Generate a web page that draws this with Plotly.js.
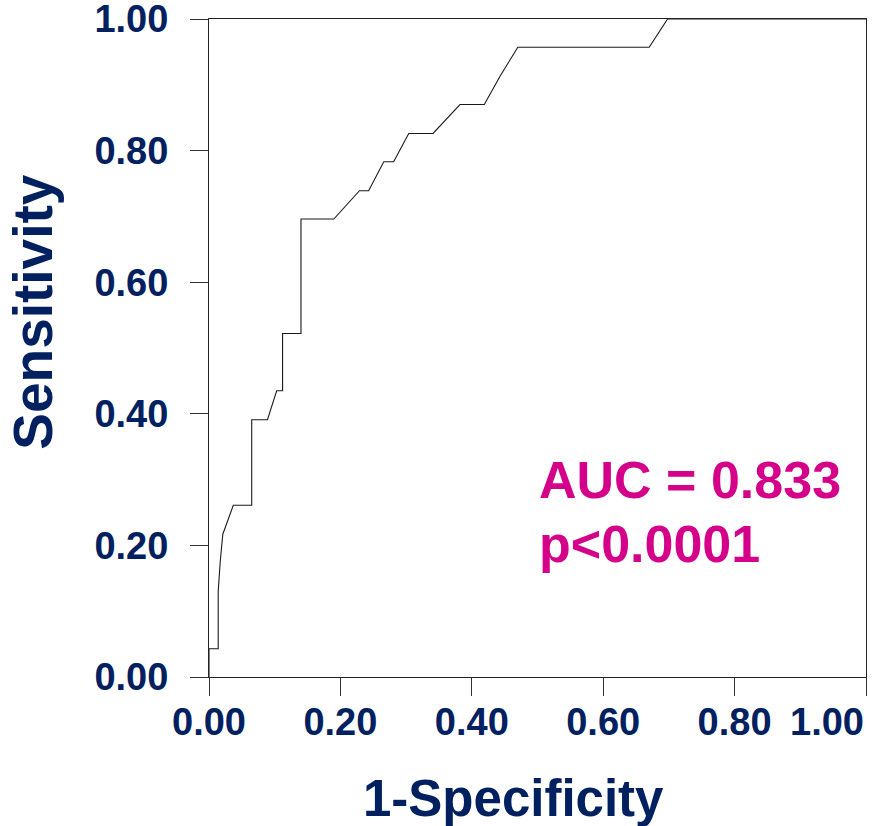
<!DOCTYPE html>
<html>
<head>
<meta charset="utf-8">
<script src="https://cdn.plot.ly/plotly-3.0.1.min.js"></script>
<style>
  html, body { margin: 0; padding: 0; background: #ffffff; }
  #chart { width: 883px; height: 826px; }
</style>
</head>
<body>
<div id="chart"></div>
<script>
// ROC curve: false positive rate (1 - specificity) against true positive rate
const fpr = [0, 0, 0.014, 0.014, 0.017, 0.021, 0.037, 0.065, 0.065, 0.089, 0.103, 0.112, 0.112,
             0.140, 0.140, 0.190, 0.229, 0.243, 0.266, 0.281, 0.304, 0.341, 0.382, 0.419,
             0.443, 0.470, 0.670, 0.698, 1.0];
const tpr = [0, 0.043, 0.043, 0.130, 0.174, 0.217, 0.261, 0.261, 0.391, 0.391, 0.435, 0.435, 0.522,
             0.522, 0.696, 0.696, 0.739, 0.739, 0.783, 0.783, 0.826, 0.826, 0.870, 0.870,
             0.913, 0.957, 0.957, 1.0, 1.0];

const tickVals = [0, 0.2, 0.4, 0.6, 0.8, 1.0];
const tickText = ['0.00', '0.20', '0.40', '0.60', '0.80', '1.00'];

const xTitle = '1-Specificity';
const yTitle = 'Sensitivity';
const aucText = 'AUC = 0.833';
const pText = 'p&lt;0.0001';

const navy = '#002060';
const magenta = '#d4008a';
const fontFamily = '"Liberation Sans", Arial, sans-serif';

const tickFont = { family: fontFamily, size: 38, color: navy, weight: 700 };

// the last x label is right-aligned to its tick (drawn as an annotation below)
const lastIdx = tickText.length - 1;
const xTickText = tickText.map((t, i) => i === lastIdx ? '' : t);

const axisCommon = {
  range: [0, 1],
  tickmode: 'array',
  tickvals: tickVals,
  ticks: 'outside',
  ticklen: 18,
  tickwidth: 1,
  tickcolor: '#333333',
  showline: true,
  linecolor: '#222222',
  linewidth: 1,
  mirror: true,
  showgrid: false,
  zeroline: false,
  tickfont: tickFont,
  ticklabeloverflow: 'allow',
  fixedrange: true
};

const data = [{
  type: 'scatter',
  mode: 'lines',
  x: fpr,
  y: tpr,
  line: { color: '#1a1a1a', width: 1.1 },
  hoverinfo: 'skip',
  showlegend: false
}];

const layout = {
  width: 883,
  height: 826,
  margin: { l: 209, r: 17, t: 19, b: 149 },
  paper_bgcolor: '#ffffff',
  plot_bgcolor: '#ffffff',
  xaxis: Object.assign({}, axisCommon, { ticktext: xTickText, ticklabelstandoff: -7 }),
  yaxis: Object.assign({}, axisCommon, { ticktext: tickText, ticklabelstandoff: 14 }),
  annotations: [
    {
      xref: 'paper', yref: 'paper',
      x: 1.0, y: -0.0685,
      xanchor: 'right', yanchor: 'middle',
      text: tickText[lastIdx], showarrow: false,
      font: tickFont
    },
    {
      xref: 'paper', yref: 'paper',
      x: 0.4635, y: -0.184,
      xanchor: 'center', yanchor: 'middle',
      text: xTitle, showarrow: false,
      font: { family: fontFamily, size: 51, color: navy, weight: 700 }
    },
    {
      xref: 'paper', yref: 'paper',
      x: -0.268, y: 0.555,
      xanchor: 'center', yanchor: 'middle',
      textangle: -90,
      text: yTitle, showarrow: false,
      font: { family: fontFamily, size: 55, color: navy, weight: 700 }
    },
    {
      xref: 'paper', yref: 'paper',
      x: 0.499, y: 0.2994,
      xanchor: 'left', yanchor: 'middle',
      align: 'left',
      text: aucText, showarrow: false,
      font: { family: fontFamily, size: 52, color: magenta, weight: 700 }
    },
    {
      xref: 'paper', yref: 'paper',
      x: 0.499, y: 0.2021,
      xanchor: 'left', yanchor: 'middle',
      align: 'left',
      text: pText, showarrow: false,
      font: { family: fontFamily, size: 52, color: magenta, weight: 700 }
    }
  ]
};

Plotly.newPlot('chart', data, layout, { displayModeBar: false, staticPlot: true });
</script>
</body>
</html>
